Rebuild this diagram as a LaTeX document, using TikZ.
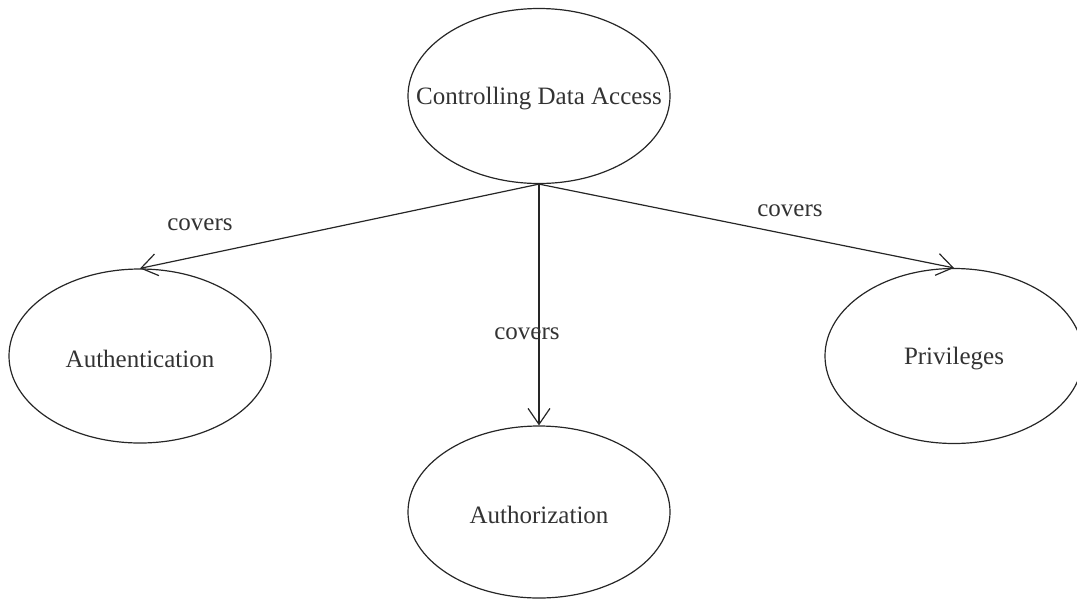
\documentclass[tikz,border=0pt]{standalone}
\usepackage{fontspec}
\setmainfont{Liberation Serif}
\usetikzlibrary{shapes.geometric,arrows.meta}
\begin{document}
\begin{tikzpicture}[x=1pt,y=-1pt,
  oval/.style={draw=black!85,line width=1.2pt,ellipse,inner sep=0pt},
  conn/.style={draw=black!85,line width=1.2pt,-{Straight Barb[length=16pt,width=22pt,line width=1.2pt]}},
  lbl/.style={font=\fontsize{25}{28}\selectfont,text=black!80},
  inlbl/.style={lbl,yshift=-3pt}]
\useasboundingbox (0,0) rectangle (1077,598);
\node[oval,minimum width=262pt,minimum height=175pt,label={[inlbl]center:Controlling Data Access}] (top) at (539,96) {};
\node[oval,minimum width=262pt,minimum height=174pt,label={[inlbl]center:Authentication}] (authn) at (140,356) {};
\node[oval,minimum width=262pt,minimum height=172pt,label={[inlbl]center:Authorization}] (authz) at (539,512) {};
\node[oval,minimum width=258pt,minimum height=175pt,label={[inlbl]center:Privileges}] (priv) at (954,356) {};
\draw[conn] (top.south) -- (authn.north);
\draw[conn] (top.south) -- (authz.north);
\draw[conn] (top.south) -- (priv.north);
\node[lbl] (l1) at (200,225) {covers};
\node[lbl] (l2) at (527,334) {covers};
\node[lbl] (l3) at (790,211) {covers};
\end{tikzpicture}
\end{document}
